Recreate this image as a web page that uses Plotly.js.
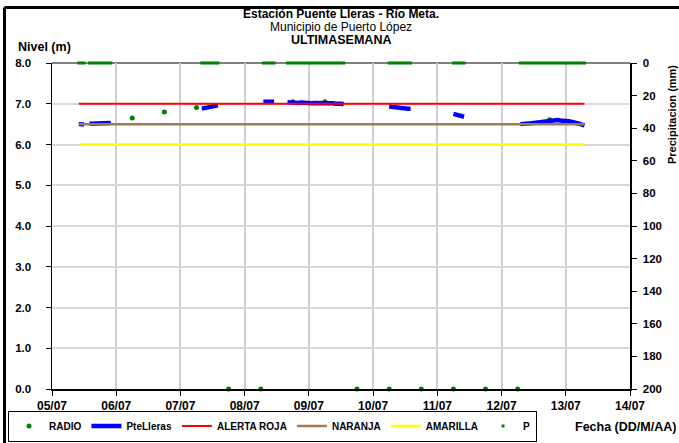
<!DOCTYPE html>
<html>
<head>
<meta charset="utf-8">
<script src="https://cdn.plot.ly/plotly-3.0.1.min.js"></script>
<style>html,body{margin:0;padding:0;background:#fff;}#chart{width:679px;height:443px;}</style>
</head>
<body>
<div id="chart"></div>
<script>
// Hourly level readings, PteLleras (null = no data)
const levelTimes = [
  "2013-07-05 10:00","2013-07-05 11:00","2013-07-05 12:00","2013-07-05 13:00","2013-07-05 14:00","2013-07-05 15:00","2013-07-05 16:00","2013-07-05 17:00","2013-07-05 18:00","2013-07-05 19:00","2013-07-05 20:00","2013-07-05 21:00","2013-07-05 22:00","2013-07-06 12:00",
  "2013-07-07 08:00","2013-07-07 09:00","2013-07-07 10:00","2013-07-07 11:00","2013-07-07 12:00","2013-07-07 13:00","2013-07-07 14:00","2013-07-07 20:00",
  "2013-07-08 07:00","2013-07-08 08:00","2013-07-08 09:00","2013-07-08 10:00","2013-07-08 11:00","2013-07-08 13:00",
  "2013-07-08 16:00","2013-07-08 17:00","2013-07-08 18:00","2013-07-08 19:00","2013-07-08 20:00","2013-07-08 21:00","2013-07-08 22:00","2013-07-08 23:00",
  "2013-07-09 00:00","2013-07-09 01:00","2013-07-09 02:00","2013-07-09 03:00","2013-07-09 04:00","2013-07-09 05:00","2013-07-09 06:00","2013-07-09 07:00","2013-07-09 08:00","2013-07-09 09:00","2013-07-09 10:00","2013-07-09 11:00","2013-07-09 12:00","2013-07-09 13:00","2013-07-09 20:00",
  "2013-07-10 06:00","2013-07-10 07:00","2013-07-10 08:00","2013-07-10 09:00","2013-07-10 10:00","2013-07-10 11:00","2013-07-10 12:00","2013-07-10 13:00","2013-07-10 14:00","2013-07-10 20:00",
  "2013-07-11 06:00","2013-07-11 07:00","2013-07-11 08:00","2013-07-11 09:00","2013-07-11 10:00","2013-07-11 20:00",
  "2013-07-12 07:00","2013-07-12 08:00","2013-07-12 09:00","2013-07-12 10:00","2013-07-12 11:00","2013-07-12 12:00","2013-07-12 13:00","2013-07-12 14:00","2013-07-12 15:00","2013-07-12 16:00","2013-07-12 17:00","2013-07-12 18:00","2013-07-12 19:00","2013-07-12 20:00","2013-07-12 21:00","2013-07-12 22:00","2013-07-12 23:00",
  "2013-07-13 00:00","2013-07-13 01:00","2013-07-13 02:00","2013-07-13 03:00","2013-07-13 04:00","2013-07-13 05:00","2013-07-13 06:00","2013-07-13 07:00"
];
const pteLleras = [
  6.50,6.50,6.49,null,6.51,6.51,6.52,6.52,6.52,6.52,6.53,6.53,6.53,null,
  6.88,6.89,6.91,6.92,6.94,6.95,6.96,null,
  7.05,7.05,7.05,7.05,7.05,null,
  7.04,7.03,7.03,7.02,7.02,7.03,7.02,7.02,
  7.02,7.01,7.02,7.02,7.02,7.03,7.03,7.02,7.02,7.01,7.00,7.01,7.00,6.99,null,
  6.93,6.92,6.91,6.90,6.90,6.89,6.89,6.88,6.88,null,
  6.75,6.73,6.71,6.69,6.68,null,
  6.50,6.50,6.51,6.51,6.52,6.53,6.54,6.55,6.56,6.57,6.58,6.59,6.60,6.60,6.60,6.59,6.59,
  6.58,6.57,6.56,6.55,6.53,6.51,6.49,6.47
];
// Precipitation (mm), same hourly timestamps
const precip = [
  0,0,0,null,0,0,0,0,0,0,0,0,0,null,
  0,0,0,0,0,0,0,null,
  0,0,0,0,0,null,
  0,0,0,0,0,0,0,0,
  0,0,0,0,0,0,0,0,0,0,0,0,0,0,null,
  0,0,0,0,0,0,0,0,0,null,
  0,0,0,0,0,null,
  0,0,0,0,0,0,0,0,0,0,0,0,0,0,0,0,0,
  0,0,0,0,0,0,0,0
];
// Radio readings (06:00 / 18:00)
const radioTimes = ["2013-07-06 06:00","2013-07-06 18:00","2013-07-07 06:00","2013-07-07 18:00","2013-07-08 06:00","2013-07-08 18:00","2013-07-09 06:00","2013-07-09 18:00","2013-07-10 06:00","2013-07-10 18:00","2013-07-11 06:00","2013-07-11 18:00","2013-07-12 06:00","2013-07-12 18:00"];
const radio = [6.65,6.80,6.91,0,0,7.05,7.05,0,0,0,0,0,0,6.61];
// Threshold levels
const thresholdSpan = ["2013-07-05 10:00","2013-07-13 07:00"];
const alertaRoja = [7.0,7.0];
const naranja = [6.5,6.5];
const amarilla = [6.0,6.0];

const FONT = "Liberation Sans, Arial, sans-serif";

const traces = [
  {name:"RADIO", x:radioTimes, y:radio, mode:"markers", type:"scatter",
   marker:{color:"#008000", size:5}, cliponaxis:false},
  {name:"PteLleras", x:levelTimes, y:pteLleras, mode:"lines", type:"scatter",
   line:{color:"#0000FF", width:4.5}, connectgaps:false},
  {name:"ALERTA ROJA", x:thresholdSpan, y:alertaRoja, mode:"lines", line:{color:"#FF0000", width:2}},
  {name:"NARANJA", x:thresholdSpan, y:naranja, mode:"lines", line:{color:"#A07B56", width:2.5}},
  {name:"AMARILLA", x:thresholdSpan, y:amarilla, mode:"lines", line:{color:"#FFFF00", width:2.5}},
  {name:"P", x:levelTimes, y:precip, yaxis:"y2", mode:"markers", type:"scatter",
   marker:{color:"#008000", size:3, symbol:"square"}, cliponaxis:false}
];

const W = 679, H = 443, L = 52, R = 49, T = 63, B = 54;
const pw = W - L - R, ph = H - T - B;
const px = v => (v - L) / pw;
const py = v => (H - B - v) / ph;

const layout = {
  width: W, height: H,
  margin: {l:L, r:R, t:T, b:B, pad:0, autoexpand:false},
  paper_bgcolor: "#ffffff", plot_bgcolor: "#ffffff",
  font: {family: FONT, color: "#000"},
  showlegend: true,
  legend: {orientation:"h", x:px(8), y:py(426), xanchor:"left", yanchor:"middle",
    bordercolor:"#000", borderwidth:1, bgcolor:"#fff", tracegroupgap:0,
    font:{family:FONT, size:10, weight:"bold", color:"#000"}},
  xaxis: {type:"date", range:["2013-07-05","2013-07-14"], tick0:"2013-07-05", dtick:86400000,
    tickformat:"%d/%m", showgrid:true, gridcolor:"#d0d0d0", gridwidth:2,
    showline:true, linecolor:"#000", linewidth:1.5, ticks:"outside", ticklen:5, tickcolor:"#000",
    zeroline:false, tickfont:{family:FONT, size:12, weight:"bold"}},
  yaxis: {range:[0,8], dtick:1, tickformat:".1f", showgrid:true, gridcolor:"#d9d9d9", gridwidth:2,
    showline:true, linecolor:"#000", linewidth:1.5, ticks:"outside", ticklen:5, tickcolor:"#000",
    zeroline:false, ticklabelstandoff:12, tickfont:{family:FONT, size:11.5, weight:"bold"}},
  yaxis2: {range:[200,0], dtick:20, overlaying:"y", side:"right", showgrid:false,
    showline:true, linecolor:"#000", linewidth:1.5, ticks:"outside", ticklen:5, tickcolor:"#000",
    zeroline:false, ticklabelstandoff:4, tickfont:{family:FONT, size:11.5, weight:"bold"}},
  shapes: [
    {type:"line", layer:"below", xref:"paper", yref:"paper", x0:0, x1:1, y0:1, y1:1, line:{color:"#808080", width:2}},
    {type:"line", xref:"paper", yref:"paper", x0:px(4.5), x1:px(700), y0:py(7.5), y1:py(7.5), line:{color:"#000", width:3}},
    {type:"line", xref:"paper", yref:"paper", x0:px(4.5), x1:px(4.5), y0:py(7.5), y1:py(460), line:{color:"#000", width:3}}
  ],
  annotations: [
    {text:"<b>Estación Puente Lleras - Río Meta.</b>", xref:"paper", yref:"paper", x:0.5, y:py(14), xanchor:"center", yanchor:"middle", showarrow:false, borderpad:0, font:{family:FONT, size:12}},
    {text:"Municipio de Puerto López", xref:"paper", yref:"paper", x:0.5, y:py(26.5), xanchor:"center", yanchor:"middle", showarrow:false, borderpad:0, font:{family:FONT, size:12}},
    {text:"<b>ULTIMASEMANA</b>", xref:"paper", yref:"paper", x:0.5, y:py(40), xanchor:"center", yanchor:"middle", showarrow:false, borderpad:0, font:{family:FONT, size:12.5}},
    {text:"<b>Nivel (m)</b>", xref:"paper", yref:"paper", x:px(16), y:py(47), xanchor:"left", yanchor:"middle", showarrow:false, font:{family:FONT, size:12.5}},
    {text:"<b>Precipitacion (mm)</b>", xref:"paper", yref:"paper", x:px(672), y:py(115), xanchor:"center", yanchor:"middle", textangle:-90, showarrow:false, font:{family:FONT, size:11}},
    {text:"<b>Fecha (DD/M/AA)</b>", xref:"paper", yref:"paper", x:px(573), y:py(427), xanchor:"left", yanchor:"middle", showarrow:false, font:{family:FONT, size:12.5}}
  ]
};

Plotly.newPlot("chart", traces, layout, {staticPlot:true, displayModeBar:false});
</script>
</body>
</html>
